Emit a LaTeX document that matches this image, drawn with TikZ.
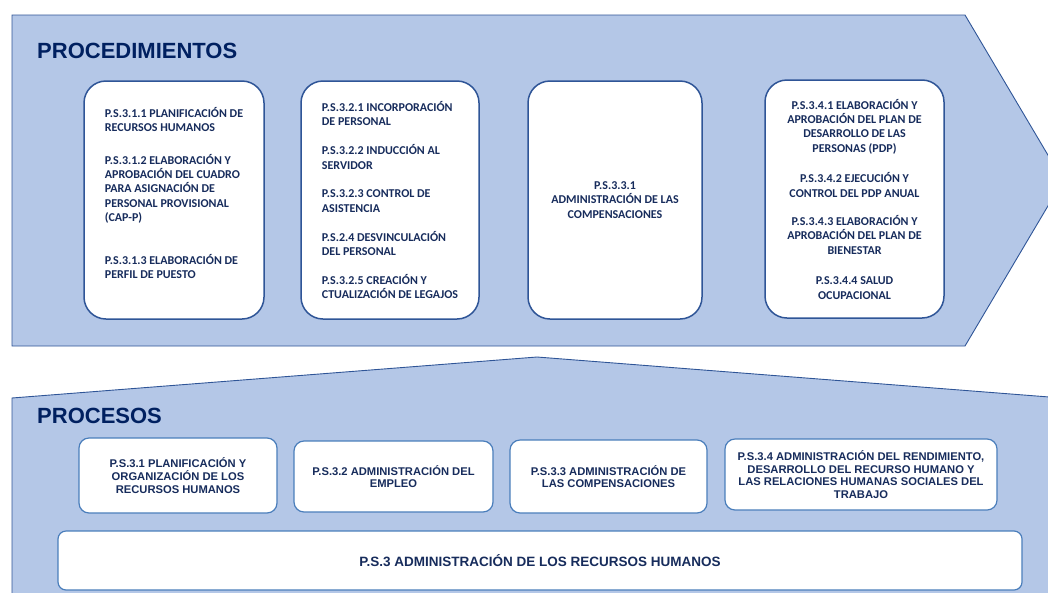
\documentclass[tikz,border=0pt]{standalone}
\usepackage{fontspec}
\setmainfont{Liberation Sans}
\newfontfamily\calibri{Carlito}

\definecolor{shapefill}{HTML}{B4C7E7}
\definecolor{shapeline}{HTML}{2F5597}
\definecolor{navy}{HTML}{002060}
\definecolor{boxtext}{HTML}{172C5C}
\definecolor{procline}{HTML}{4A7EBB}

\tikzset{
	bigshape/.style={draw=shapeline, line width=0.9pt, fill=shapefill, line join=miter},
	heading/.style={anchor=west, inner sep=0pt, text=navy, font=\bfseries\fontsize{22}{26}\selectfont},
	procbox/.style={draw=shapeline, line width=1.5pt, fill=white, rounded corners=22pt, inner sep=0pt,
		text=boxtext, font=\calibri\bfseries\fontsize{12}{14.4}\selectfont},
	lowbox/.style={draw=procline, line width=1.2pt, fill=white, rounded corners=10pt, inner sep=0pt,
		align=center, text=boxtext, font=\bfseries\fontsize{11.2}{12.8}\selectfont}
}

\begin{document}
\begin{tikzpicture}[x=1pt, y=-1pt]
	\useasboundingbox (0,0) rectangle (1048,592);
	% background shapes:
	\begin{scope}
		\clip (0,0) rectangle (1048,592);
		\draw [bigshape] (12,15) -- (965,15) -- (1063,180.5) -- (965,346) -- (12,346) -- cycle;
		\draw [bigshape] (12,610) -- (12,398) -- (537,357) -- (1062,398) -- (1062,610);
	\end{scope}
	% procedimientos:
	\node [heading] (proctitle) at (37,51) {PROCEDIMIENTOS};
	\node [procbox, align=left, minimum width=180pt, minimum height=238pt] (proc1) at (174,200)
		{P.S.3.1.1 PLANIFICACIÓN DE\\RECURSOS HUMANOS\\[18pt]
		P.S.3.1.2 ELABORACIÓN Y\\APROBACIÓN DEL CUADRO\\PARA ASIGNACIÓN DE\\PERSONAL PROVISIONAL\\(CAP-P)\\[28pt]
		P.S.3.1.3 ELABORACIÓN DE\\PERFIL DE PUESTO\\};
	\node [procbox, align=left, minimum width=178pt, minimum height=238pt] (proc2) at (390,200)
		{P.S.3.2.1 INCORPORACIÓN\\DE PERSONAL\\[14.4pt]
		P.S.3.2.2 INDUCCIÓN AL\\SERVIDOR\\[14.4pt]
		P.S.3.2.3 CONTROL DE\\ASISTENCIA\\[14.4pt]
		P.S.2.4 DESVINCULACIÓN\\DEL PERSONAL\\[14.4pt]
		P.S.3.2.5 CREACIÓN Y\\CTUALIZACIÓN DE LEGAJOS};
	\node [procbox, align=center, minimum width=174pt, minimum height=238pt] (proc3) at (615,200)
		{P.S.3.3.1\\ADMINISTRACIÓN DE LAS\\COMPENSACIONES};
	\node [procbox, align=center, minimum width=179pt, minimum height=238pt] (proc4) at (854.5,199)
		{P.S.3.4.1 ELABORACIÓN Y\\APROBACIÓN DEL PLAN DE\\DESARROLLO DE LAS\\PERSONAS (PDP)\\[16pt]
		P.S.3.4.2 EJECUCIÓN Y\\CONTROL DEL PDP ANUAL\\[14pt]
		P.S.3.4.3 ELABORACIÓN Y\\APROBACIÓN DEL PLAN DE\\BIENESTAR\\[16pt]
		P.S.3.4.4 SALUD\\OCUPACIONAL};
	% procesos:
	\node [heading] (protitle) at (37,416) {PROCESOS};
	\node [lowbox, minimum width=198pt, minimum height=75pt] (ps1) at (178,475.5)
		{P.S.3.1 PLANIFICACIÓN Y\\ORGANIZACIÓN DE LOS\\RECURSOS HUMANOS};
	\node [lowbox, minimum width=199pt, minimum height=71pt] (ps2) at (393.5,476.5)
		{P.S.3.2 ADMINISTRACIÓN DEL\\EMPLEO};
	\node [lowbox, minimum width=197pt, minimum height=73pt] (ps3) at (608.5,476.5)
		{P.S.3.3 ADMINISTRACIÓN DE\\LAS COMPENSACIONES};
	\node [lowbox, minimum width=272pt, minimum height=71pt] (ps4) at (861,474.5)
		{P.S.3.4 ADMINISTRACIÓN DEL RENDIMIENTO,\\DESARROLLO DEL RECURSO HUMANO Y\\LAS RELACIONES HUMANAS SOCIALES DEL\\TRABAJO};
	\node [lowbox, rounded corners=8pt, font=\bfseries\fontsize{13.5}{16}\selectfont,
		minimum width=964pt, minimum height=59pt] (ps) at (540,560.5)
		{P.S.3 ADMINISTRACIÓN DE LOS RECURSOS HUMANOS};
\end{tikzpicture}
\end{document}
